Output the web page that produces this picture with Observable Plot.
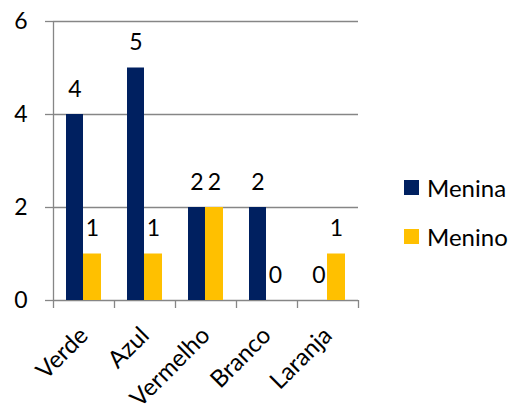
<!DOCTYPE html>
<html>
<head>
<meta charset="utf-8">
<script src="https://cdn.jsdelivr.net/npm/d3@7"></script>
<script src="https://cdn.jsdelivr.net/npm/@observablehq/plot@0.6"></script>
<style>
  body { margin: 0; background: #fff; }
  #wrap { position: relative; width: 511px; height: 405px; font-family: Lato, "Open Sans", sans-serif; }
  #legend { position: absolute; left: 404px; top: 170px; }
  .item { display: flex; align-items: center; height: 34px; margin-bottom: 15px; font-size: 24px; color: #000; }
  .sw { width: 15px; height: 15px; margin-right: 8px; }
</style>
</head>
<body>
<div id="wrap"></div>
<script>
const categories = ["Verde", "Azul", "Vermelho", "Branco", "Laranja"];
const series = ["Menina", "Menino"];
const menina = [4, 5, 2, 2, 0];
const menino = [1, 1, 2, 0, 1];
const colors = ["#002060", "#FFC000"];
const yTicks = [0, 2, 4, 6];

const rowsMenina = categories.map((c, i) => ({cat: c, value: menina[i]}));
const rowsMenino = categories.map((c, i) => ({cat: c, value: menino[i]}));
const grid = "#868686";
const fs = 23;

const chart = Plot.plot({
  width: 511,
  height: 405,
  marginLeft: 53,
  marginRight: 153,
  marginTop: 21,
  marginBottom: 105,
  style: {fontFamily: "Lato, 'Open Sans', sans-serif", background: "#fff", color: "#000"},
  x: {domain: categories, padding: 0},
  y: {domain: [0, 6]},
  marks: [
    Plot.ruleY(yTicks, {stroke: grid, strokeWidth: 1.3}),
    Plot.ruleX([categories[0]], {x: d => d, dx: -30.5, stroke: grid, strokeWidth: 1.3}),
    Plot.ruleX(categories, {x: d => d, dx: -30.5, y1: 0, y2: 0, insetBottom: -8, stroke: grid, strokeWidth: 1.3}),
    Plot.ruleX([categories[categories.length - 1]], {x: d => d, dx: 30.5, y1: 0, y2: 0, insetBottom: -8, stroke: grid, strokeWidth: 1.3}),
    Plot.barY(rowsMenina, {x: "cat", y: "value", fill: colors[0], insetLeft: 13, insetRight: 31}),
    Plot.barY(rowsMenino, {x: "cat", y: "value", fill: colors[1], insetLeft: 30, insetRight: 13}),
    Plot.text(rowsMenina, {x: "cat", y: "value", text: d => String(d.value), dx: -9, dy: -25, fontSize: fs, fill: "#000"}),
    Plot.text(rowsMenino, {x: "cat", y: "value", text: d => String(d.value), dx: 8.5, dy: -25, fontSize: fs, fill: "#000"}),
    Plot.axisY({ticks: yTicks, tickFormat: "d", tickSize: 8, tickPadding: 18, stroke: grid, fill: "#000", fontSize: fs, label: null, strokeWidth: 1.3}),
    Plot.axisX({tickSize: 0, tickRotate: -45, tickPadding: 31, fontSize: 24, fill: "#000", label: null})
  ]
});

const wrap = document.getElementById("wrap");
wrap.appendChild(chart);
const legend = document.createElement("div");
legend.id = "legend";
series.forEach((s, i) => {
  const item = document.createElement("div");
  item.className = "item";
  const sw = document.createElement("span");
  sw.className = "sw";
  sw.style.background = colors[i];
  const t = document.createElement("span");
  t.textContent = s;
  item.appendChild(sw);
  item.appendChild(t);
  legend.appendChild(item);
});
wrap.appendChild(legend);
</script>
</body>
</html>
